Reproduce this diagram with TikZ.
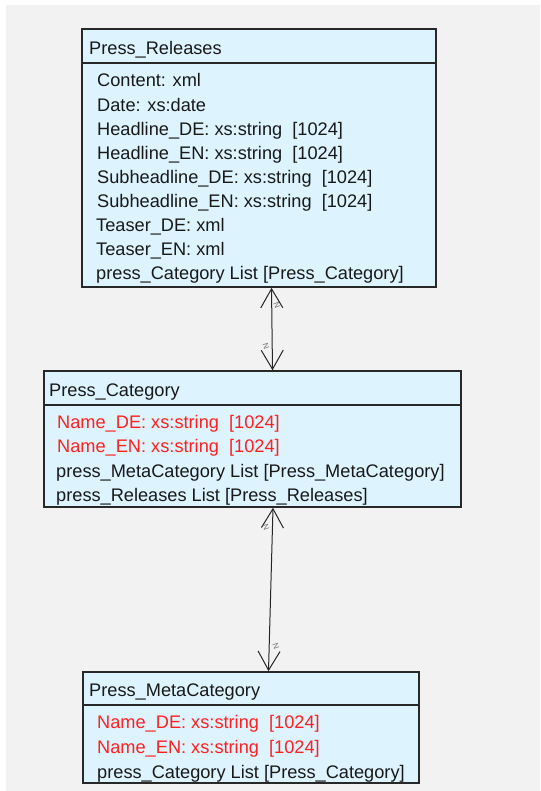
\documentclass[tikz,border=0pt]{standalone}
\usepackage{fontspec}
\setmainfont{Liberation Sans}
\usetikzlibrary{arrows.meta}
\definecolor{bgc}{RGB}{242,242,242}
\definecolor{boxfill}{RGB}{221,243,254}
\definecolor{attrred}{RGB}{255,32,32}
\definecolor{edge}{RGB}{40,40,40}
\tikzset{
  umlbox/.style={draw=edge, line width=1.6pt, fill=boxfill, inner sep=0pt},
  hdrline/.style={draw=edge, line width=1.4pt},
  txt/.style={anchor=base west, inner sep=0pt, font=\fontsize{18.2}{21}\selectfont, text=black!90},
  redtxt/.style={txt, text=attrred},
  conn/.style={draw=black!85, line width=1pt, {Straight Barb[length=19pt,width=22pt,line width=1pt]}-{Straight Barb[length=19pt,width=22pt,line width=1pt]}},
  mult/.style={inner sep=0pt, font=\fontsize{8}{8}\selectfont, text=black!55}
}
\begin{document}
\begin{tikzpicture}[x=1pt,y=-1pt]
\useasboundingbox (0,0) rectangle (540,791);
\fill[white] (0,0) rectangle (540,791);
\fill[bgc] (6,5) rectangle (540,791);

% Press_Releases
\path[umlbox] (82,29) rectangle (436,287);
\node[inner sep=0pt, minimum width=354pt, minimum height=258pt] (pr) at (259,158) {};
\draw[hdrline] (82,63) -- (436,63);
\node[txt] (prt) at (89,55) {Press\_Releases};
\node[txt] (pr1) at (97,87) {Content: xml};
\node[txt] (pr2) at (97,111.1) {Date: xs:date};
\node[txt] (pr3) at (97,135.2) {Headline\_DE: xs:string\ \ [1024]};
\node[txt] (pr4) at (97,159.3) {Headline\_EN: xs:string\ \ [1024]};
\node[txt] (pr5) at (97,183.4) {Subheadline\_DE: xs:string\ \ [1024]};
\node[txt] (pr6) at (97,207.5) {Subheadline\_EN: xs:string\ \ [1024]};
\node[txt] (pr7) at (96,231.6) {Teaser\_DE: xml};
\node[txt] (pr8) at (96,255.7) {Teaser\_EN: xml};
\node[txt] (pr9) at (96,279.8) {press\_Category List [Press\_Category]};

% Press_Category
\path[umlbox] (44,371) rectangle (461,507);
\node[inner sep=0pt, minimum width=417pt, minimum height=136pt] (pc) at (252.5,439) {};
\draw[hdrline] (44,405) -- (461,405);
\node[txt] (pct) at (49,396.7) {Press\_Category};
\node[redtxt] (pc1) at (57,428.3) {Name\_DE: xs:string\ \ [1024]};
\node[redtxt] (pc2) at (57,452.7) {Name\_EN: xs:string\ \ [1024]};
\node[txt] (pc3) at (56,477.1) {press\_MetaCategory List [Press\_MetaCategory]};
\node[txt] (pc4) at (56,501.5) {press\_Releases List [Press\_Releases]};

% Press_MetaCategory
\path[umlbox] (83,672) rectangle (419,783);
\node[inner sep=0pt, minimum width=336pt, minimum height=111pt] (pm) at (251,727.5) {};
\draw[hdrline] (83,705) -- (419,705);
\node[txt] (pmt) at (89,696.7) {Press\_MetaCategory};
\node[redtxt] (pm1) at (97,728.3) {Name\_DE: xs:string\ \ [1024]};
\node[redtxt] (pm2) at (97,753.3) {Name\_EN: xs:string\ \ [1024]};
\node[txt] (pm3) at (97,778.3) {press\_Category List [Press\_Category]};

% connectors
\coordinate (a1) at (271.5,287.8);
\coordinate (a2) at (272.5,370.2);
\coordinate (b1) at (273,507.8);
\coordinate (b2) at (268.5,671.2);
\draw[conn] (a1) -- (a2);
\draw[conn] (b1) -- (b2);
\node[mult, rotate=-70] (m1) at (277,305) {N};
\node[mult, rotate=-70] (m2) at (266,346) {N};
\node[mult, rotate=-70] (m3) at (266,527) {N};
\node[mult, rotate=-70] (m4) at (276,646) {N};
\end{tikzpicture}
\end{document}
